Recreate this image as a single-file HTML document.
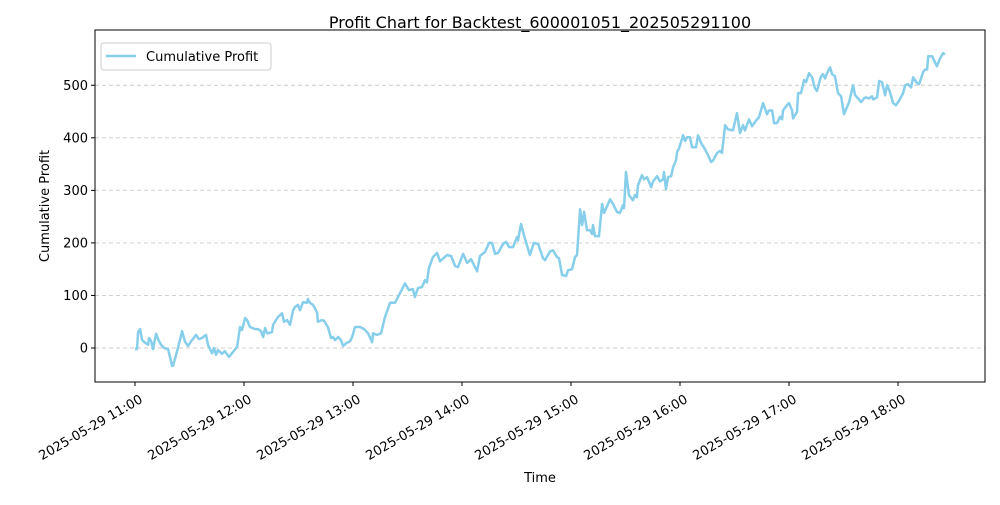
<!DOCTYPE html>
<html><head><meta charset="utf-8"><style>
body{margin:0;background:#fff;font-family:"Liberation Sans","DejaVu Sans",sans-serif}
svg text{font-family:"DejaVu Sans","Liberation Sans",sans-serif}
</style></head><body>
<svg id="chart" width="1000" height="500" viewBox="0 0 1000 500">
<rect width="1000" height="500" fill="#fff"/>
<text x="540" y="28" text-anchor="middle" font-size="16" fill="#000">Profit Chart for Backtest_600001051_202505291100</text>
<g id="grid"></g>
<g id="line"></g>
<rect x="95" y="30" width="890" height="352" fill="none" stroke="#000" stroke-width="1"/>
<g id="xticks"></g><g id="yticks"></g>
<text x="540" y="482" text-anchor="middle" font-size="13">Time</text>
<text transform="translate(49,206) rotate(-90)" text-anchor="middle" font-size="13">Cumulative Profit</text>
<g>
<rect x="101" y="43" width="170" height="27" rx="3" fill="#fff" stroke="#ccc"/>
<line x1="106" y1="56" x2="136" y2="56" stroke="#87ceeb" stroke-width="2.5"/>
<text x="146" y="61" font-size="13">Cumulative Profit</text>
</g>
</svg>
<script>
const minutes=[0,1.1,1.7,2.8,3.9,5.5,7.2,7.7,8.8,9.9,11.6,12.7,14.3,16.0,18.2,20.4,20.9,22.6,24.2,25.9,27.5,29.2,31.4,33.6,35.2,36.9,39.1,40.2,42.4,43.5,44.6,45.7,47.9,49.5,51.7,53.9,56.2,57.8,58.9,60.6,61.7,63.3,66.1,67.7,69.4,70.5,71.6,72.7,75.4,76.0,78.7,80.9,82.0,83.7,85.3,87.0,88.1,89.7,90.8,92.5,94.7,95.2,96.3,98.0,100.2,100.7,102.9,104.0,106.2,107.9,109.0,110.1,111.8,113.4,114.5,116.7,118.4,119.5,121.1,123.9,126.1,128.3,130.5,131.0,133.2,135.4,137.6,140.4,143.1,147.0,148.6,150.8,153.0,154.1,155.8,158.0,159.6,160.7,161.8,164.0,166.3,167.9,171.8,174.0,176.2,177.8,180.6,182.8,185.0,188.3,189.9,192.7,194.9,196.5,198.2,199.8,202.6,204.2,205.9,208.1,210.3,210.8,212.5,214.1,217.4,219.6,221.9,224.6,225.7,228.5,230.1,232.3,233.4,235.1,237.3,238.4,240.6,242.2,243.3,245.0,246.1,247.2,248.8,250.5,251.6,252.1,253.2,255.4,257.1,258.2,261.5,263.1,265.3,267.0,268.6,269.2,270.3,271.9,274.1,275.2,276.3,276.9,279.1,280.2,281.9,284.1,285.2,287.4,289.0,290.7,291.2,292.3,293.4,295.1,296.2,297.8,298.4,299.5,301.7,302.8,303.9,305.5,306.6,308.8,309.9,311.6,313.8,315.4,317.1,318.2,320.4,322.0,323.1,324.8,326.4,329.2,331.4,333.0,334.7,335.8,338.0,339.7,341.9,343.5,345.7,347.9,349.0,350.7,351.8,353.4,355.1,356.2,356.7,358.9,360.0,361.7,362.2,364.4,365.0,366.6,368.3,369.4,371.0,372.7,374.3,375.4,377.6,378.7,379.8,380.9,382.6,383.7,385.3,387.0,388.7,390.3,393.1,395.3,396.4,397.5,399.7,401.3,402.4,404.1,405.7,406.3,408.5,409.6,411.2,412.9,414.0,415.6,417.3,418.9,420.6,422.8,423.9,425.5,427.2,428.3,430.5,431.6,433.8,434.9,436.0,436.6,438.8,441.4,443.1,444.8,445.9];
const profit=[-2,-2,30,36,15,10,6,19,14,-2,27,17,6,0,-2,-34,-34,-13,8,32,12,4,15,25,17,19,25,6,-10,0,-13,-4,-11,-6,-17,-8,2,40,34,57,53,40,36,36,32,21,38,28,30,44,59,66,50,53,44,72,78,82,72,87,86,93,86,82,68,50,53,52,40,19,21,15,21,15,4,10,13,21,40,40,36,28,11,28,25,28,59,86,86,112,123,110,112,97,114,116,129,125,152,173,181,165,177,175,156,154,179,162,169,146,175,183,200,200,179,181,198,202,192,192,211,205,236,215,177,200,198,171,167,184,186,173,171,139,137,148,150,173,177,264,234,259,224,224,217,234,213,213,274,257,283,274,259,257,272,266,335,291,281,291,287,310,329,321,325,306,317,327,317,321,335,302,325,327,344,357,373,380,405,394,401,401,382,382,405,390,378,367,354,357,371,375,371,424,416,414,447,409,424,414,435,422,433,439,466,445,452,452,428,428,440,435,452,462,466,452,437,449,485,485,510,506,523,515,494,489,517,521,513,523,534,521,517,485,479,445,468,500,481,477,468,475,477,475,479,473,477,508,506,481,500,487,466,462,471,485,500,502,496,515,504,502,525,530,530,555,555,536,551,561,559];
const xTickMinutes=[0,60,120,180,240,300,360,420];
const xTickLabels=["2025-05-29 11:00","2025-05-29 12:00","2025-05-29 13:00","2025-05-29 14:00","2025-05-29 15:00","2025-05-29 16:00","2025-05-29 17:00","2025-05-29 18:00"];
const yTicks=[0,100,200,300,400,500];
const NS="http://www.w3.org/2000/svg";
function xs(m){return 135+m*109/60;}
function ys(v){return 348-v*0.5255;}
const grid=document.getElementById('grid'),yt=document.getElementById('yticks'),xt=document.getElementById('xticks');
yTicks.forEach(v=>{
 const g=document.createElementNS(NS,'line');
 
 
 g.setAttribute('x1',95);g.setAttribute('x2',985);g.setAttribute('y1',ys(v));g.setAttribute('y2',ys(v));
 g.setAttribute('stroke','#ccc');g.setAttribute('stroke-dasharray','4,3');g.setAttribute('stroke-width','0.9');
 grid.appendChild(g);
 const t=document.createElementNS(NS,'line');
 
 
 t.setAttribute('x1',91);t.setAttribute('x2',95);t.setAttribute('y1',ys(v));t.setAttribute('y2',ys(v));t.setAttribute('stroke','#000');
 yt.appendChild(t);
 const l=document.createElementNS(NS,'text');
 
 
 l.setAttribute('x',88);l.setAttribute('y',ys(v)+4.5);l.setAttribute('text-anchor','end');l.setAttribute('font-size','13');
 l.textContent=v;yt.appendChild(l);
});
xTickMinutes.forEach((m,i)=>{
 const x=xs(m);
 const t=document.createElementNS(NS,'line');
 
 
 t.setAttribute('x1',x);t.setAttribute('x2',x);t.setAttribute('y1',382);t.setAttribute('y2',386);t.setAttribute('stroke','#000');
 xt.appendChild(t);
 const l=document.createElementNS(NS,'text');
 
 
 l.setAttribute('transform','translate('+(x+4)+',394) rotate(-30)');
 l.setAttribute('text-anchor','end');l.setAttribute('font-size','13');l.setAttribute('dy','9');
 l.textContent=xTickLabels[i];xt.appendChild(l);
});
const p=document.createElementNS(NS,'path');


p.setAttribute('d',minutes.map((m,i)=>(i?'L':'M')+xs(m).toFixed(1)+','+ys(profit[i]).toFixed(1)).join(''));
p.setAttribute('fill','none');p.setAttribute('stroke','#87ceeb');p.setAttribute('stroke-width','2.5');p.setAttribute('stroke-linejoin','round');
document.getElementById('line').appendChild(p);
</script>
</body></html>
